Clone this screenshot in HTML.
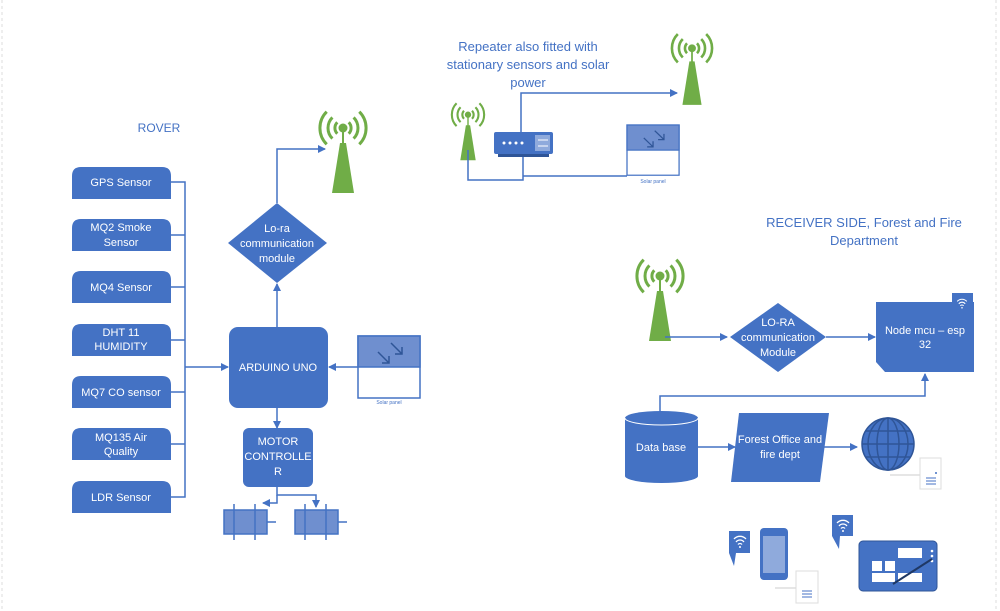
<!DOCTYPE html>
<html><head><meta charset="utf-8"><style>
html,body{margin:0;padding:0;background:#fff;}
svg{display:block;font-family:"Liberation Sans",sans-serif;}
</style></head><body>
<svg width="1000" height="611" viewBox="0 0 1000 611" xmlns="http://www.w3.org/2000/svg">
<defs>
<marker id="ar" markerWidth="8" markerHeight="8" refX="7" refY="4" orient="auto" markerUnits="userSpaceOnUse"><path d="M0,0 L8,4 L0,8 z" fill="#4472c4"/></marker>
<g id="ant">
 <g fill="none" stroke="#70ad47" stroke-width="3">
  <path d="M-5.7,15.3 A8 8 0 0 0 -5.7,26.7"/><path d="M5.7,15.3 A8 8 0 0 1 5.7,26.7"/>
  <path d="M-10.6,10.4 A15 15 0 0 0 -10.6,31.6"/><path d="M10.6,10.4 A15 15 0 0 1 10.6,31.6"/>
  <path d="M-16.3,4.7 A23 23 0 0 0 -16.3,37.3"/><path d="M16.3,4.7 A23 23 0 0 1 16.3,37.3"/>
 </g>
 <circle cx="0" cy="21" r="4.5" fill="#70ad47"/>
 <rect x="-1" y="21" width="2" height="16" fill="#70ad47"/>
 <path d="M-3,36 L3,36 L11,86 L-11,86 z" fill="#70ad47"/>
</g>
<g id="solar">
 <rect x="0" y="0" width="62" height="62" fill="#fff" stroke="#4472c4" stroke-width="1.5"/>
 <rect x="0" y="0" width="62" height="31" fill="#6f8fcf" stroke="#4472c4" stroke-width="1.5"/>
 <path d="M33,7 L44,18 M44,11 L44,18 L37,18 M20,16 L31,27 M31,20 L31,27 L24,27" stroke="#2f5597" stroke-width="1.5" fill="none"/>
</g>
<g id="wifi">
 <path d="M-6,-2 A8 8 0 0 1 6,-2 M-4,1 A5 5 0 0 1 4,1 M-2,3.5 A2.5 2.5 0 0 1 2,3.5" stroke="#fff" stroke-width="1.3" fill="none"/>
 <circle cx="0" cy="6" r="1" fill="#fff"/>
</g>
</defs>

<line x1="2" y1="0" x2="2" y2="611" stroke="#ddd" stroke-dasharray="3,3"/>
<line x1="996" y1="0" x2="996" y2="611" stroke="#ddd" stroke-dasharray="3,3"/>

<!-- ROVER -->
<text x="159" y="132" font-size="12" fill="#4472c4" text-anchor="middle">ROVER</text>
<g fill="#4472c4">
 <path d="M72,199 V176 Q72,167 81,167 H162 Q171,167 171,176 V199 z"/>
 <path d="M72,251 V228 Q72,219 81,219 H162 Q171,219 171,228 V251 z"/>
 <path d="M72,303 V280 Q72,271 81,271 H162 Q171,271 171,280 V303 z"/>
 <path d="M72,356 V333 Q72,324 81,324 H162 Q171,324 171,333 V356 z"/>
 <path d="M72,408 V385 Q72,376 81,376 H162 Q171,376 171,385 V408 z"/>
 <path d="M72,460 V437 Q72,428 81,428 H162 Q171,428 171,437 V460 z"/>
 <path d="M72,513 V490 Q72,481 81,481 H162 Q171,481 171,490 V513 z"/>
</g>
<g fill="#fff" font-size="11" text-anchor="middle">
 <text x="121" y="186">GPS Sensor</text>
 <text x="121" y="231">MQ2 Smoke</text><text x="121" y="246">Sensor</text>
 <text x="121" y="291">MQ4 Sensor</text>
 <text x="121" y="336">DHT 11</text><text x="121" y="350">HUMIDITY</text>
 <text x="121" y="396">MQ7 CO sensor</text>
 <text x="121" y="441">MQ135 Air</text><text x="121" y="455">Quality</text>
 <text x="121" y="501">LDR Sensor</text>
</g>
<g stroke="#4472c4" stroke-width="1.5" fill="none">
 <path d="M171,182 H185 V497 H171"/>
 <path d="M171,235 H185 M171,287 H185 M171,340 H185 M171,392 H185 M171,444 H185"/>
 <path d="M185,367 H228" marker-end="url(#ar)"/>
 <path d="M277,327 V284" marker-end="url(#ar)"/>
 <path d="M277,203 V149 H325" marker-end="url(#ar)"/>
 <path d="M358,367 H329" marker-end="url(#ar)"/>
 <path d="M277,408 V428" marker-end="url(#ar)"/>
 <path d="M277,487 V495 H316 V507" marker-end="url(#ar)"/>
 <path d="M277,495 V503 H263" marker-end="url(#ar)"/>
</g>
<rect x="229" y="327" width="99" height="81" rx="9" fill="#4472c4"/>
<text x="278" y="371" font-size="11" fill="#fff" text-anchor="middle">ARDUINO UNO</text>
<path d="M277,203 L327,243 L277,283 L228,243 z" fill="#4472c4"/>
<g fill="#fff" font-size="11" text-anchor="middle">
 <text x="277" y="232">Lo-ra</text><text x="277" y="247">communication</text><text x="277" y="262">module</text>
</g>
<use href="#ant" transform="translate(343,107)"/>
<use href="#solar" transform="translate(358,336)"/>
<text x="389" y="404" font-size="5" fill="#4472c4" text-anchor="middle">Solar panel</text>
<rect x="243" y="428" width="70" height="59" rx="6" fill="#4472c4"/>
<g fill="#fff" font-size="11" text-anchor="middle">
 <text x="278" y="445">MOTOR</text><text x="278" y="460">CONTROLLE</text><text x="278" y="475">R</text>
</g>
<g fill="#6f8fcf" stroke="#4472c4" stroke-width="1.5">
 <rect x="224" y="510" width="43" height="24"/><rect x="295" y="510" width="43" height="24"/>
</g>
<g stroke="#4472c4" stroke-width="1.5">
 <path d="M234,504 V540 M255,504 V540 M267,522 H276 M305,504 V540 M326,504 V540 M338,522 H347"/>
</g>

<!-- REPEATER -->
<g fill="#4472c4" font-size="13" text-anchor="middle">
 <text x="528" y="51">Repeater also fitted with</text>
 <text x="528" y="69">stationary sensors and solar</text>
 <text x="528" y="87">power</text>
</g>
<use href="#ant" transform="translate(468,100) scale(0.7)"/>
<use href="#ant" transform="translate(692,30) scale(0.87)"/>
<g stroke="#4472c4" stroke-width="1.5" fill="none">
 <path d="M521,132 V93 H677" marker-end="url(#ar)"/>
 <path d="M468,150 V180 H523 V155 M523,176 H627"/>
</g>
<rect x="494" y="132" width="59" height="22" rx="2" fill="#4472c4"/>
<rect x="498" y="154" width="51" height="3" fill="#2f5597"/>
<g fill="#fff"><circle cx="504" cy="143" r="1.5"/><circle cx="510" cy="143" r="1.5"/><circle cx="516" cy="143" r="1.5"/><circle cx="522" cy="143" r="1.5"/></g>
<rect x="535" y="135" width="15" height="16" fill="#8faadc"/>
<path d="M538,140 H548 M538,146 H548" stroke="#fff" stroke-width="1"/>
<use href="#solar" transform="translate(627,125) scale(0.84,0.81)"/>
<text x="653" y="183" font-size="5" fill="#4472c4" text-anchor="middle">Solar panel</text>

<!-- RECEIVER -->
<g fill="#4472c4" font-size="13" text-anchor="middle">
 <text x="864" y="227">RECEIVER SIDE, Forest and Fire</text>
 <text x="864" y="245">Department</text>
</g>
<use href="#ant" transform="translate(660,255)"/>
<g stroke="#4472c4" stroke-width="1.5" fill="none">
 <path d="M665,337 H727" marker-end="url(#ar)"/>
 <path d="M826,337 H875" marker-end="url(#ar)"/>
 <path d="M660,412 V396 H925 V374" marker-end="url(#ar)"/>
 <path d="M698,447 H735" marker-end="url(#ar)"/>
 <path d="M824,447 H857" marker-end="url(#ar)"/>
 <path d="M890,475 H920" stroke="#ccc" stroke-width="1"/>
 <path d="M775,588 H796" stroke="#ccc" stroke-width="1"/>
</g>
<path d="M778,303 L826,337 L778,372 L730,337 z" fill="#4472c4"/>
<g fill="#fff" font-size="11" text-anchor="middle">
 <text x="778" y="326">LO-RA</text><text x="778" y="341">communication</text><text x="778" y="356">Module</text>
</g>
<path d="M876,302 H974 V372 H885 L876,362 z" fill="#4472c4"/>
<rect x="952" y="293" width="21" height="20" fill="#4472c4"/>
<use href="#wifi" transform="translate(962,303) scale(0.8)"/>
<g fill="#fff" font-size="11" text-anchor="middle">
 <text x="925" y="334">Node mcu – esp</text><text x="925" y="348">32</text>
</g>
<path d="M625,418 V476 A36.5 7 0 0 0 698,476 V418 A36.5 7 0 0 0 625,418 z" fill="#4472c4"/>
<path d="M625,418 A36.5 7 0 0 0 698,418" stroke="#fff" stroke-width="1" fill="none"/>
<text x="661" y="451" font-size="11" fill="#fff" text-anchor="middle">Data base</text>
<path d="M739,413 H829 L820,482 H731 z" fill="#4472c4"/>
<g fill="#fff" font-size="11" text-anchor="middle">
 <text x="780" y="443">Forest Office and</text><text x="780" y="458">fire dept</text>
</g>
<circle cx="888" cy="444" r="26" fill="#4472c4"/>
<g stroke="#2f5597" stroke-width="1.5" fill="none">
 <circle cx="888" cy="444" r="26"/>
 <ellipse cx="888" cy="444" rx="11" ry="26"/><ellipse cx="888" cy="444" rx="20" ry="26"/>
 <path d="M888,418 V470 M862,444 H914 M866,431 H910 M866,457 H910"/>
</g>
<rect x="920" y="458" width="21" height="31" fill="#fff" stroke="#ddd"/>
<path d="M926,478 H936 M926,481 H936 M926,484 H936" stroke="#4472c4"/>
<circle cx="936" cy="473" r="1" fill="#4472c4"/>

<!-- devices -->
<path d="M729,531 H750 V553 H736 L734,566 L729,553 z" fill="#4472c4"/>
<use href="#wifi" transform="translate(740,541)"/>
<path d="M832,515 H853 V536 H840 L839,549 L832,536 z" fill="#4472c4"/>
<use href="#wifi" transform="translate(843,525)"/>
<rect x="760" y="528" width="28" height="52" rx="4" fill="#4472c4"/>
<rect x="763" y="536" width="22" height="37" fill="#8faadc"/>
<rect x="796" y="571" width="22" height="32" fill="#fff" stroke="#ddd"/>
<path d="M802,591 H812 M802,594 H812 M802,597 H812" stroke="#4472c4"/>
<rect x="859" y="541" width="78" height="50" rx="4" fill="#4472c4" stroke="#2f5597"/>
<g fill="#fff">
 <rect x="898" y="548" width="24" height="10"/><rect x="872" y="561" width="10" height="10"/><rect x="885" y="561" width="10" height="10"/>
 <rect x="872" y="573" width="23" height="9"/><rect x="898" y="573" width="24" height="9"/>
 <circle cx="932" cy="551" r="1.3"/><circle cx="932" cy="556" r="1.3"/><circle cx="932" cy="561" r="1.3"/>
</g>
<path d="M893,584 L932,559" stroke="#1f3864" stroke-width="2"/>
</svg>
</body></html>
